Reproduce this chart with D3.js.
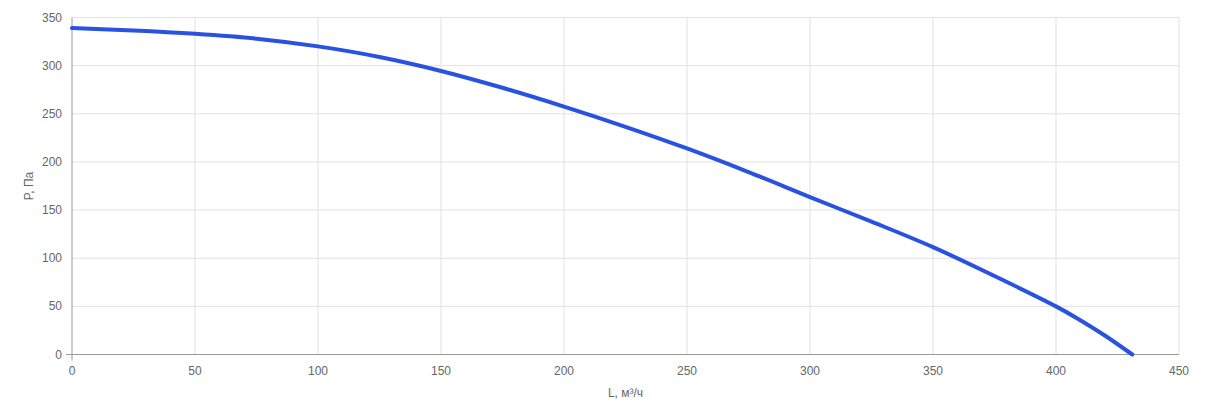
<!DOCTYPE html>
<html><head><meta charset="utf-8">
<script src="https://cdn.jsdelivr.net/npm/d3@7"></script>
<style>body{margin:0;background:#fff;}svg{display:block;font-family:"Liberation Sans",Arial,sans-serif;}</style>
</head><body>
<svg id="c" width="1211" height="402"></svg>
<script>
const flowL = [0, 25, 50, 75, 100, 125, 150, 175, 200, 225, 250, 275, 300, 325, 350, 375, 400, 408, 420, 431];
const pressureP = [339, 336.5, 333, 328, 320, 309, 294.5, 277, 257.5, 236.5, 214, 189.5, 163.5, 138, 111.5, 81.5, 50, 38.5, 19.5, 0];
const xTicks = [0, 50, 100, 150, 200, 250, 300, 350, 400, 450];
const yTicks = [0, 50, 100, 150, 200, 250, 300, 350];
const xLabel = "L, м³/ч";
const yLabel = "P, Па";

const svg = d3.select("#c");
const m = {left:72, right:1179, top:17.5, bottom:354.5};
const x = d3.scaleLinear().domain([0,450]).range([m.left, m.right]);
const y = d3.scaleLinear().domain([0,350]).range([m.bottom, m.top]);

// grid
svg.append("g").selectAll("line").data(xTicks.slice(1)).join("line")
  .attr("x1", d=>x(d)).attr("x2", d=>x(d)).attr("y1", m.top).attr("y2", m.bottom)
  .attr("stroke", "#e1e1e1").attr("stroke-width", 1);
svg.append("g").selectAll("line").data(yTicks.slice(1)).join("line")
  .attr("x1", m.left).attr("x2", m.right).attr("y1", d=>y(d)).attr("y2", d=>y(d))
  .attr("stroke", "#e1e1e1").attr("stroke-width", 1);

// axes lines
svg.append("line").attr("x1", m.left-6).attr("x2", m.right).attr("y1", m.bottom).attr("y2", m.bottom).attr("stroke", "#9a9a9a");
svg.append("line").attr("x1", m.left).attr("x2", m.left).attr("y1", m.top).attr("y2", m.bottom+6).attr("stroke", "#9a9a9a");

// tick labels
svg.append("g").selectAll("text").data(xTicks).join("text")
  .attr("x", d=>x(d)).attr("y", m.bottom+20).attr("text-anchor","middle")
  .attr("font-size", 12).attr("fill", "#666").text(d=>d);
svg.append("g").selectAll("text").data(yTicks).join("text")
  .attr("x", m.left-10).attr("y", d=>y(d)+4).attr("text-anchor","end")
  .attr("font-size", 12).attr("fill", "#666").text(d=>d);

// axis titles
svg.append("text").attr("x", (m.left+m.right)/2).attr("y", 397).attr("text-anchor","middle")
  .attr("font-size", 12).attr("fill", "#666").text(xLabel);
svg.append("text").attr("transform", `translate(33,${(m.top+m.bottom)/2}) rotate(-90)`).attr("text-anchor","middle")
  .attr("font-size", 12).attr("fill", "#666").text(yLabel);

// curve
const pts = flowL.map((l,i)=>[l, pressureP[i]]);
svg.append("path").datum(pts)
  .attr("d", d3.line().x(d=>x(d[0])).y(d=>y(d[1])).curve(d3.curveCatmullRom.alpha(0.5)))
  .attr("fill","none").attr("stroke","#2a52e0").attr("stroke-width",4).attr("stroke-linecap","round");
</script>
</body></html>
